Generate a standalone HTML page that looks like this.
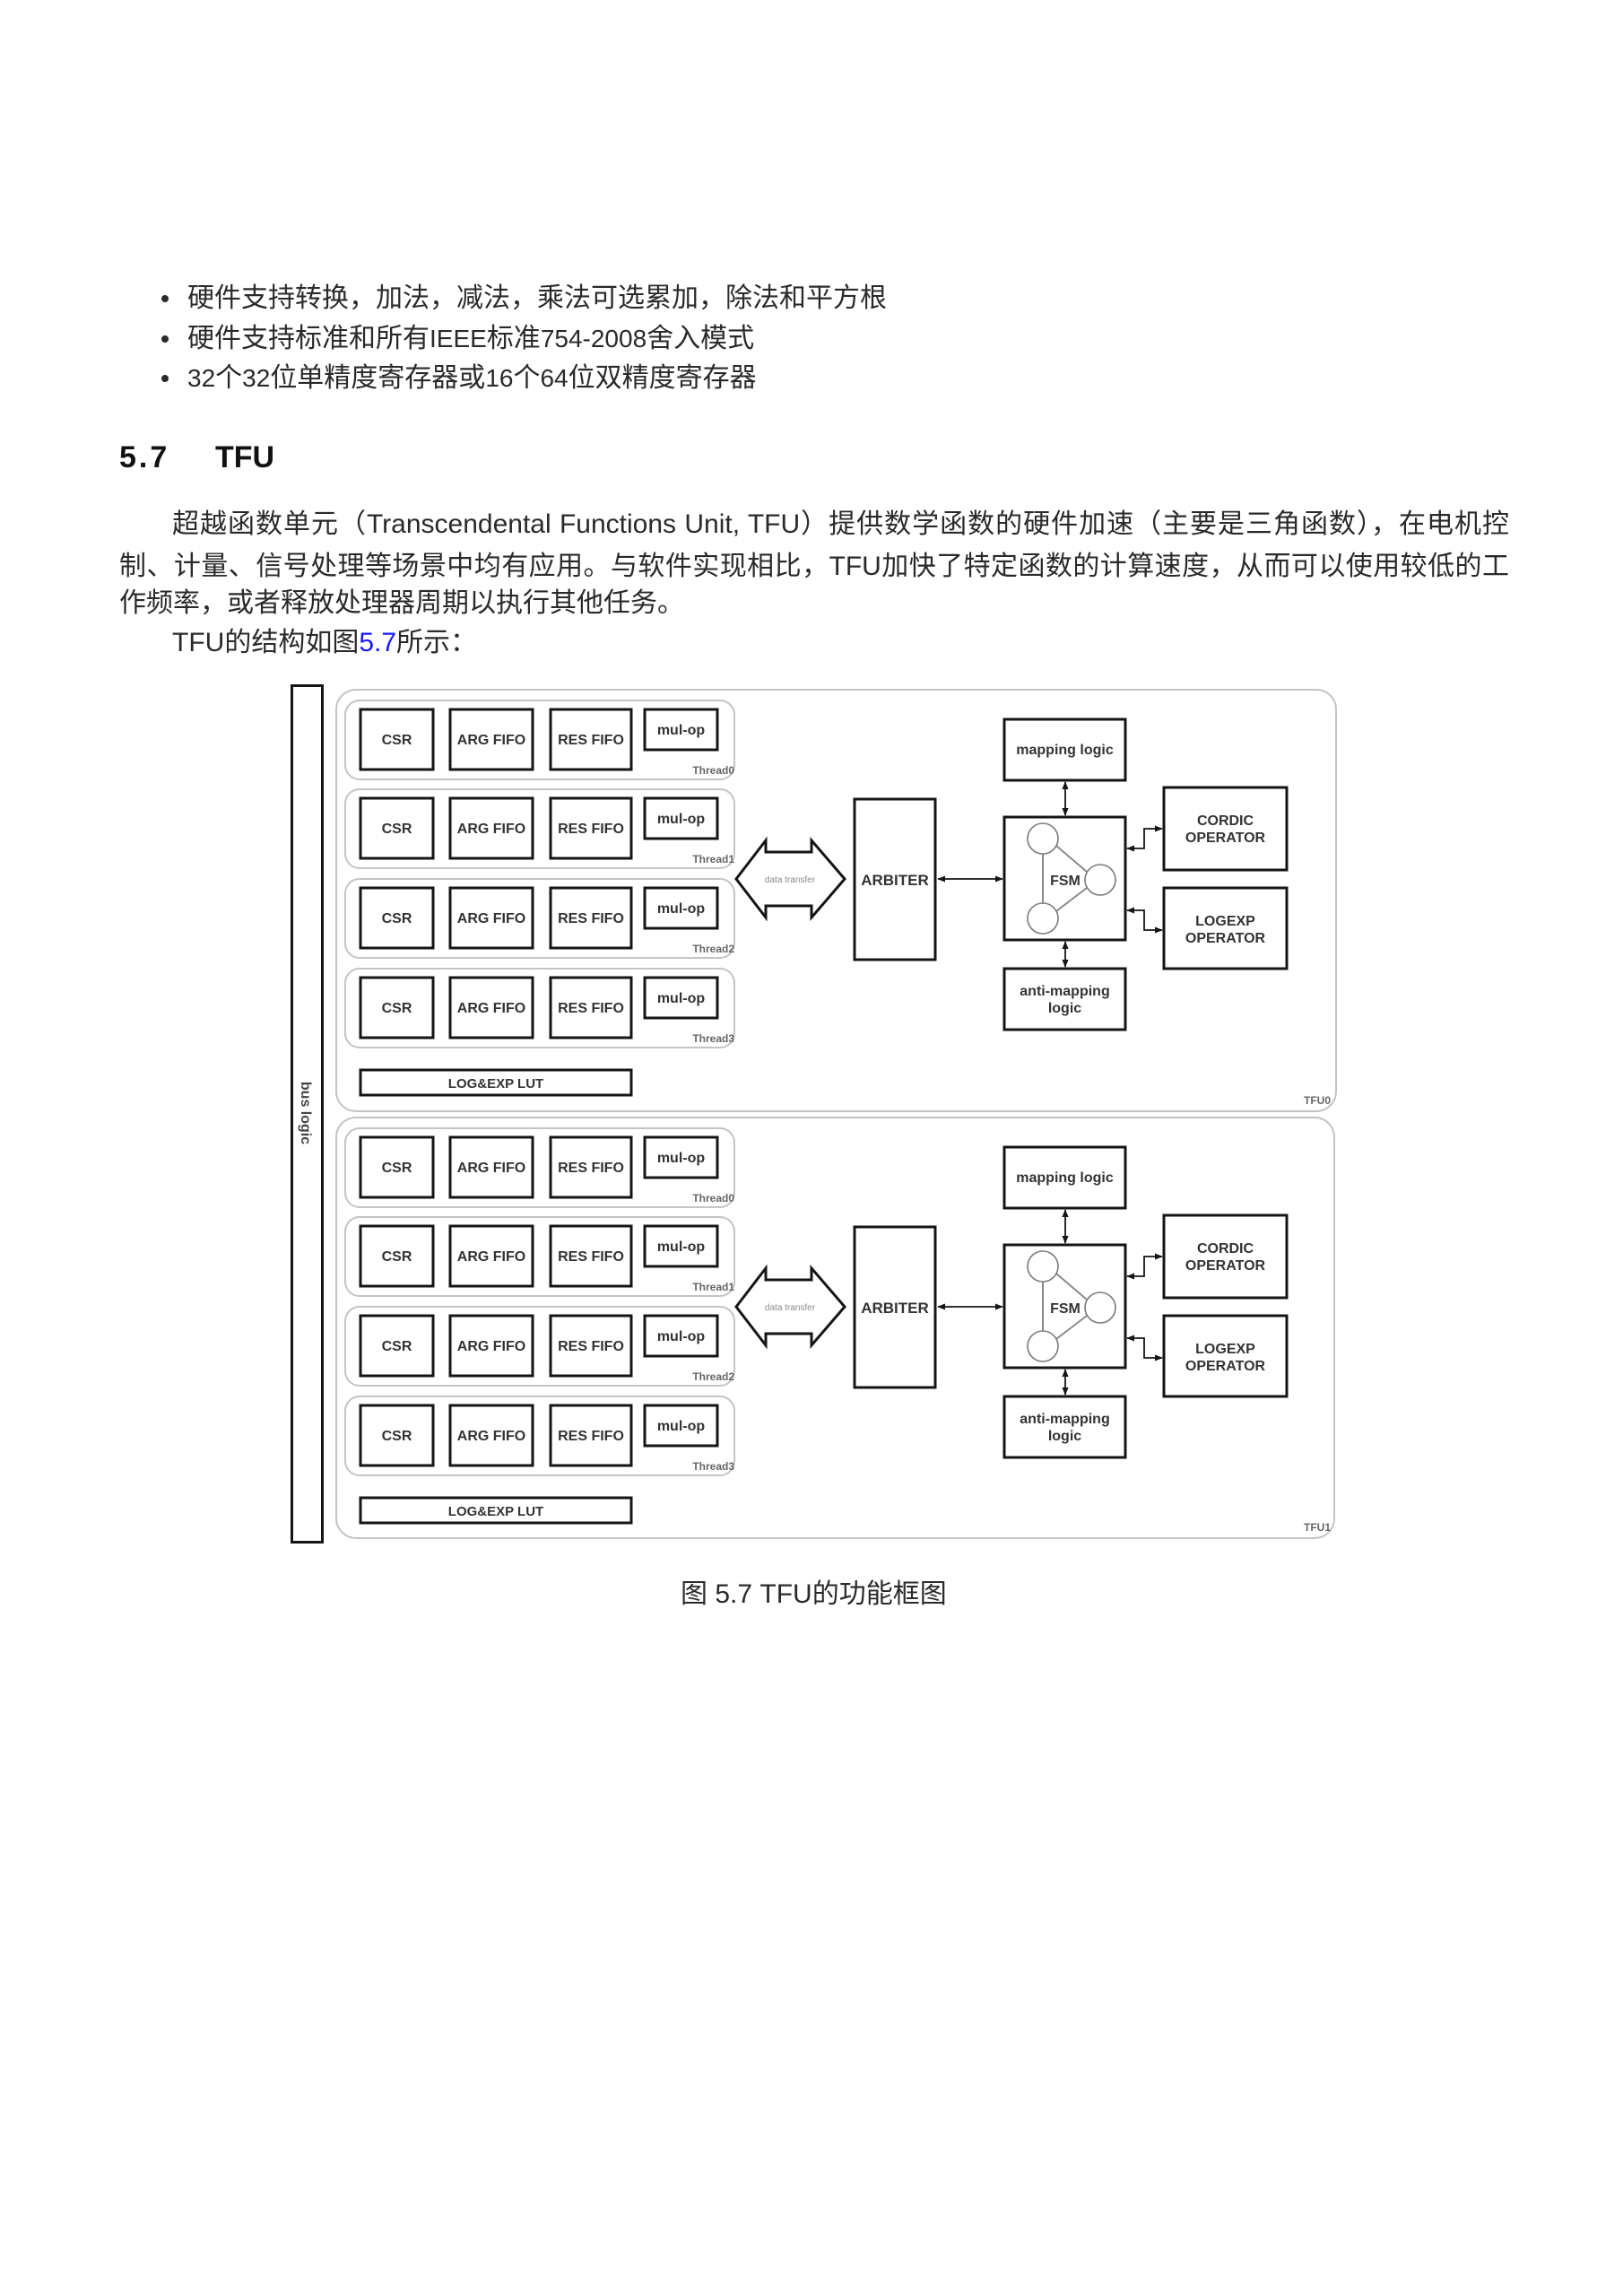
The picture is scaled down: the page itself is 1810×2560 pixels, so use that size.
<!DOCTYPE html>
<html>
<head>
<meta charset="utf-8">
<style>
  html, body { margin: 0; padding: 0; background: #ffffff; }
  body { width: 1810px; height: 2560px; position: relative; overflow: hidden;
         font-family: "Liberation Sans", "Noto Sans CJK SC", sans-serif; color: #2a2a2a; }
  .ln { position: absolute; font-size: 30px; line-height: 40px; height: 40px; white-space: nowrap; }
  .just { text-align: justify; text-align-last: justify; white-space: normal; }
  .lat { font-size: 28px; }
  .dot { position: absolute; width: 8px; height: 8px; border-radius: 50%; background: #2a2a2a; }
  .h { position: absolute; font-size: 34px; font-weight: bold; line-height: 44px; color: #111; }
  .blue { color: #1a1aff; }
  svg { position: absolute; left: 0; top: 0; }
  .b { fill: #ffffff; stroke: #151515; stroke-width: 3; }
  .g { fill: none; stroke: #c4c4c4; stroke-width: 2; }
  .t { font-family: "Liberation Sans", sans-serif; font-weight: bold; font-size: 16px; fill: #333; text-anchor: middle; }
  .th { font-family: "Liberation Sans", sans-serif; font-weight: bold; font-size: 12px; fill: #666; text-anchor: end; }
  .dt { font-family: "Liberation Sans", sans-serif; font-size: 10px; fill: #8a8a8a; text-anchor: middle; }
  .cl { fill: #ffffff; stroke: #7a7a7a; stroke-width: 1.6; }
  .fl { stroke: #8a8a8a; stroke-width: 2; }
  .ar { fill: none; stroke: #151515; stroke-width: 1.8; }
</style>
</head>
<body>

<!-- bullets -->
<div class="dot" style="left:180px;top:329px;"></div>
<div class="ln" style="left:209px;top:313px;">硬件支持转换，加法，减法，乘法可选累加，除法和平方根</div>
<div class="dot" style="left:180px;top:374px;"></div>
<div class="ln" style="left:209px;top:358px;">硬件支持标准和所有<span class="lat">IEEE</span>标准<span class="lat">754-2008</span>舍入模式</div>
<div class="dot" style="left:180px;top:418px;"></div>
<div class="ln" style="left:209px;top:402px;"><span class="lat">32</span>个<span class="lat">32</span>位单精度寄存器或<span class="lat">16</span>个<span class="lat">64</span>位双精度寄存器</div>

<!-- heading -->
<div class="h" style="left:133px;top:488px;letter-spacing:3px;">5.7</div>
<div class="h" style="left:240px;top:488px;">TFU</div>

<!-- paragraph -->
<div class="ln just" style="left:192px;top:565px;width:1491px;">超越函数单元（Transcendental Functions Unit, TFU）提供数学函数的硬件加速（主要是三角函数），在电机控</div>
<div class="ln just" style="left:133px;top:612px;width:1550px;">制、计量、信号处理等场景中均有应用。与软件实现相比，TFU加快了特定函数的计算速度，从而可以使用较低的工</div>
<div class="ln" style="left:133px;top:653px;">作频率，或者释放处理器周期以执行其他任务。</div>
<div class="ln" style="left:192px;top:697px;">TFU的结构如图<span class="blue">5.7</span>所示：</div>

<!-- caption -->
<div class="ln" style="left:759px;top:1758px;">图 5.7 TFU的功能框图</div>

<svg width="1810" height="2560" viewBox="0 0 1810 2560" xmlns="http://www.w3.org/2000/svg">
  <defs>
    <marker id="ah" viewBox="0 0 10 10" refX="9" refY="5" markerWidth="9" markerHeight="9" markerUnits="userSpaceOnUse" orient="auto-start-reverse">
      <path d="M0,1 L10,5 L0,9 z" fill="#151515"/>
    </marker>
  </defs>

  <!-- bus logic bar -->
  <rect x="325.5" y="764.5" width="34" height="955" class="b"/>
  <text class="t" transform="translate(341,1241) rotate(90)" dy="5" style="fill:#444;">bus logic</text>

  <!-- ================= TFU0 ================= -->
  <g>
    <rect x="375" y="769" width="1115" height="470" rx="22" class="g"/>
    <text x="1484" y="1231" class="th">TFU0</text>

    <g transform="translate(0,781)">
      <rect x="385" y="0" width="434" height="88" rx="16" class="g"/>
      <rect x="402" y="10" width="81" height="67" class="b"/><text x="442.5" y="49" class="t">CSR</text>
      <rect x="502" y="10" width="92" height="67" class="b"/><text x="548" y="49" class="t">ARG FIFO</text>
      <rect x="614" y="10" width="90" height="67" class="b"/><text x="659" y="49" class="t">RES FIFO</text>
      <rect x="719" y="10" width="81" height="45" class="b"/><text x="759.5" y="38" class="t">mul-op</text>
      <text x="819" y="82" class="th">Thread0</text>
    </g>
    <g transform="translate(0,880)">
      <rect x="385" y="0" width="434" height="88" rx="16" class="g"/>
      <rect x="402" y="10" width="81" height="67" class="b"/><text x="442.5" y="49" class="t">CSR</text>
      <rect x="502" y="10" width="92" height="67" class="b"/><text x="548" y="49" class="t">ARG FIFO</text>
      <rect x="614" y="10" width="90" height="67" class="b"/><text x="659" y="49" class="t">RES FIFO</text>
      <rect x="719" y="10" width="81" height="45" class="b"/><text x="759.5" y="38" class="t">mul-op</text>
      <text x="819" y="82" class="th">Thread1</text>
    </g>
    <g transform="translate(0,980)">
      <rect x="385" y="0" width="434" height="88" rx="16" class="g"/>
      <rect x="402" y="10" width="81" height="67" class="b"/><text x="442.5" y="49" class="t">CSR</text>
      <rect x="502" y="10" width="92" height="67" class="b"/><text x="548" y="49" class="t">ARG FIFO</text>
      <rect x="614" y="10" width="90" height="67" class="b"/><text x="659" y="49" class="t">RES FIFO</text>
      <rect x="719" y="10" width="81" height="45" class="b"/><text x="759.5" y="38" class="t">mul-op</text>
      <text x="819" y="82" class="th">Thread2</text>
    </g>
    <g transform="translate(0,1080)">
      <rect x="385" y="0" width="434" height="88" rx="16" class="g"/>
      <rect x="402" y="10" width="81" height="67" class="b"/><text x="442.5" y="49" class="t">CSR</text>
      <rect x="502" y="10" width="92" height="67" class="b"/><text x="548" y="49" class="t">ARG FIFO</text>
      <rect x="614" y="10" width="90" height="67" class="b"/><text x="659" y="49" class="t">RES FIFO</text>
      <rect x="719" y="10" width="81" height="45" class="b"/><text x="759.5" y="38" class="t">mul-op</text>
      <text x="819" y="82" class="th">Thread3</text>
    </g>

    <rect x="402" y="1193" width="302" height="28" class="b"/>
    <text x="553" y="1213" class="t" style="font-size:15px;">LOG&amp;EXP LUT</text>

    <!-- data transfer -->
    <polygon points="821,980 854,937 854,950 905,950 905,937 942,980 905,1023 905,1010 854,1010 854,1023" class="b"/>
    <text x="881" y="984" class="dt">data transfer</text>

    <rect x="953" y="891" width="90" height="179" class="b"/>
    <text x="998" y="987" class="t" style="font-size:17px;">ARBITER</text>
    <line x1="1046" y1="980" x2="1118" y2="980" class="ar" marker-start="url(#ah)" marker-end="url(#ah)"/>

    <rect x="1120" y="802" width="135" height="68" class="b"/>
    <text x="1187.5" y="841" class="t">mapping logic</text>

    <rect x="1120" y="911" width="135" height="137" class="b"/>
    <line x1="1163" y1="952" x2="1163" y2="1007" class="fl"/>
    <line x1="1178" y1="943" x2="1212" y2="972" class="fl"/>
    <line x1="1178" y1="1016" x2="1212" y2="990" class="fl"/>
    <circle cx="1163" cy="935" r="17" class="cl"/>
    <circle cx="1227" cy="981" r="17" class="cl"/>
    <circle cx="1163" cy="1024" r="17" class="cl"/>
    <text x="1188" y="987" class="t">FSM</text>

    <rect x="1120" y="1080" width="135" height="68" class="b"/>
    <text x="1187.5" y="1110" class="t">anti-mapping</text>
    <text x="1187.5" y="1129" class="t">logic</text>

    <line x1="1188" y1="872" x2="1188" y2="909" class="ar" marker-start="url(#ah)" marker-end="url(#ah)"/>
    <line x1="1188" y1="1050" x2="1188" y2="1078" class="ar" marker-start="url(#ah)" marker-end="url(#ah)"/>

    <rect x="1298" y="878" width="137" height="92" class="b"/>
    <text x="1366.5" y="920" class="t">CORDIC</text>
    <text x="1366.5" y="939" class="t">OPERATOR</text>

    <rect x="1298" y="990" width="137" height="90" class="b"/>
    <text x="1366.5" y="1032" class="t">LOGEXP</text>
    <text x="1366.5" y="1051" class="t">OPERATOR</text>

    <polyline points="1257,946 1276,946 1276,924 1296,924" class="ar" marker-start="url(#ah)" marker-end="url(#ah)"/>
    <polyline points="1257,1015 1276,1015 1276,1037 1296,1037" class="ar" marker-start="url(#ah)" marker-end="url(#ah)"/>
  </g>

  <!-- ================= TFU1 ================= -->
  <g transform="translate(0,477)">
    <rect x="375" y="769" width="1113" height="469" rx="22" class="g"/>
    <text x="1484" y="1230" class="th">TFU1</text>

    <g transform="translate(0,781)">
      <rect x="385" y="0" width="434" height="88" rx="16" class="g"/>
      <rect x="402" y="10" width="81" height="67" class="b"/><text x="442.5" y="49" class="t">CSR</text>
      <rect x="502" y="10" width="92" height="67" class="b"/><text x="548" y="49" class="t">ARG FIFO</text>
      <rect x="614" y="10" width="90" height="67" class="b"/><text x="659" y="49" class="t">RES FIFO</text>
      <rect x="719" y="10" width="81" height="45" class="b"/><text x="759.5" y="38" class="t">mul-op</text>
      <text x="819" y="82" class="th">Thread0</text>
    </g>
    <g transform="translate(0,880)">
      <rect x="385" y="0" width="434" height="88" rx="16" class="g"/>
      <rect x="402" y="10" width="81" height="67" class="b"/><text x="442.5" y="49" class="t">CSR</text>
      <rect x="502" y="10" width="92" height="67" class="b"/><text x="548" y="49" class="t">ARG FIFO</text>
      <rect x="614" y="10" width="90" height="67" class="b"/><text x="659" y="49" class="t">RES FIFO</text>
      <rect x="719" y="10" width="81" height="45" class="b"/><text x="759.5" y="38" class="t">mul-op</text>
      <text x="819" y="82" class="th">Thread1</text>
    </g>
    <g transform="translate(0,980)">
      <rect x="385" y="0" width="434" height="88" rx="16" class="g"/>
      <rect x="402" y="10" width="81" height="67" class="b"/><text x="442.5" y="49" class="t">CSR</text>
      <rect x="502" y="10" width="92" height="67" class="b"/><text x="548" y="49" class="t">ARG FIFO</text>
      <rect x="614" y="10" width="90" height="67" class="b"/><text x="659" y="49" class="t">RES FIFO</text>
      <rect x="719" y="10" width="81" height="45" class="b"/><text x="759.5" y="38" class="t">mul-op</text>
      <text x="819" y="82" class="th">Thread2</text>
    </g>
    <g transform="translate(0,1080)">
      <rect x="385" y="0" width="434" height="88" rx="16" class="g"/>
      <rect x="402" y="10" width="81" height="67" class="b"/><text x="442.5" y="49" class="t">CSR</text>
      <rect x="502" y="10" width="92" height="67" class="b"/><text x="548" y="49" class="t">ARG FIFO</text>
      <rect x="614" y="10" width="90" height="67" class="b"/><text x="659" y="49" class="t">RES FIFO</text>
      <rect x="719" y="10" width="81" height="45" class="b"/><text x="759.5" y="38" class="t">mul-op</text>
      <text x="819" y="82" class="th">Thread3</text>
    </g>

    <rect x="402" y="1193" width="302" height="28" class="b"/>
    <text x="553" y="1213" class="t" style="font-size:15px;">LOG&amp;EXP LUT</text>

    <polygon points="821,980 854,937 854,950 905,950 905,937 942,980 905,1023 905,1010 854,1010 854,1023" class="b"/>
    <text x="881" y="984" class="dt">data transfer</text>

    <rect x="953" y="891" width="90" height="179" class="b"/>
    <text x="998" y="987" class="t" style="font-size:17px;">ARBITER</text>
    <line x1="1046" y1="980" x2="1118" y2="980" class="ar" marker-start="url(#ah)" marker-end="url(#ah)"/>

    <rect x="1120" y="802" width="135" height="68" class="b"/>
    <text x="1187.5" y="841" class="t">mapping logic</text>

    <rect x="1120" y="911" width="135" height="137" class="b"/>
    <line x1="1163" y1="952" x2="1163" y2="1007" class="fl"/>
    <line x1="1178" y1="943" x2="1212" y2="972" class="fl"/>
    <line x1="1178" y1="1016" x2="1212" y2="990" class="fl"/>
    <circle cx="1163" cy="935" r="17" class="cl"/>
    <circle cx="1227" cy="981" r="17" class="cl"/>
    <circle cx="1163" cy="1024" r="17" class="cl"/>
    <text x="1188" y="987" class="t">FSM</text>

    <rect x="1120" y="1080" width="135" height="68" class="b"/>
    <text x="1187.5" y="1110" class="t">anti-mapping</text>
    <text x="1187.5" y="1129" class="t">logic</text>

    <line x1="1188" y1="872" x2="1188" y2="909" class="ar" marker-start="url(#ah)" marker-end="url(#ah)"/>
    <line x1="1188" y1="1050" x2="1188" y2="1078" class="ar" marker-start="url(#ah)" marker-end="url(#ah)"/>

    <rect x="1298" y="878" width="137" height="92" class="b"/>
    <text x="1366.5" y="920" class="t">CORDIC</text>
    <text x="1366.5" y="939" class="t">OPERATOR</text>

    <rect x="1298" y="990" width="137" height="90" class="b"/>
    <text x="1366.5" y="1032" class="t">LOGEXP</text>
    <text x="1366.5" y="1051" class="t">OPERATOR</text>

    <polyline points="1257,946 1276,946 1276,924 1296,924" class="ar" marker-start="url(#ah)" marker-end="url(#ah)"/>
    <polyline points="1257,1015 1276,1015 1276,1037 1296,1037" class="ar" marker-start="url(#ah)" marker-end="url(#ah)"/>
  </g>
</svg>

</body>
</html>
